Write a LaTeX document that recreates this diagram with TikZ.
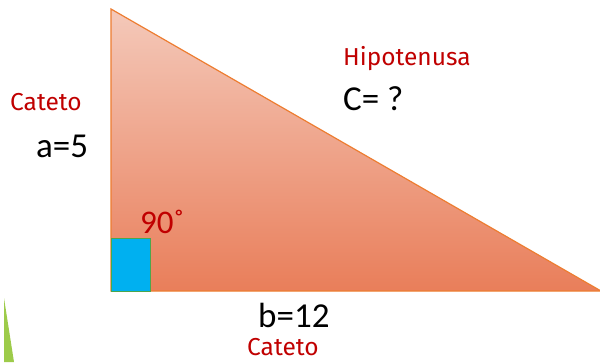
\documentclass[tikz,border=0pt]{standalone}
\usepackage{fontspec}
\setmainfont{Carlito}
\newfontfamily\labelfont{Fira Sans}
\usepackage{tikz}
\usetikzlibrary{positioning,calc}
\definecolor{legred}{HTML}{C00000}
\definecolor{triedge}{HTML}{ED7D31}
\definecolor{tritop}{HTML}{F4C9BA}
\definecolor{tribot}{HTML}{E97E5A}
\definecolor{rightbox}{HTML}{00B0F0}
\definecolor{leafgreen}{HTML}{9DCB4A}

\begin{document}
\begin{tikzpicture}[x=1pt,y=-1pt,
legname/.style={inner sep=0pt,anchor=base west,text=legred,font=\labelfont\fontsize{24.5}{28}\selectfont},
legval/.style={inner sep=0pt,anchor=base west,text=black,font=\fontsize{35}{40}\selectfont}]
\useasboundingbox (0,0) rectangle (600,362);
\coordinate (top) at (111,9);
\coordinate (rgt) at (601,291);
\coordinate (org) at (111,291);
\fill[leafgreen] (4,298) -- (14,362) -- (4,362) -- cycle;
\shade[top color=tritop,bottom color=tribot] (top) -- (org) -- (rgt) -- cycle;
\draw[triedge,line width=1.2pt,line join=miter] (top) -- (org) -- (rgt) -- cycle;
\draw[fill=rightbox,draw=green!50!black!70,line width=.8pt] (org) rectangle (150,238);
\node[legname](catA) at (10,110){Cateto};
\node[legval](valA) at (36,157){a=5};
\node[legname](hipo) at (343,65){Hipotenusa};
\node[legval](valC) at (343,110){C= ?};
\node[legval,text=legred,font=\fontsize{33}{38}\selectfont](ang) at (140,233){90˚};
\node[legval](valB) at (258,327){b=12};
\node[legname](catB) at (247,355){Cateto};
\end{tikzpicture}
\end{document}
